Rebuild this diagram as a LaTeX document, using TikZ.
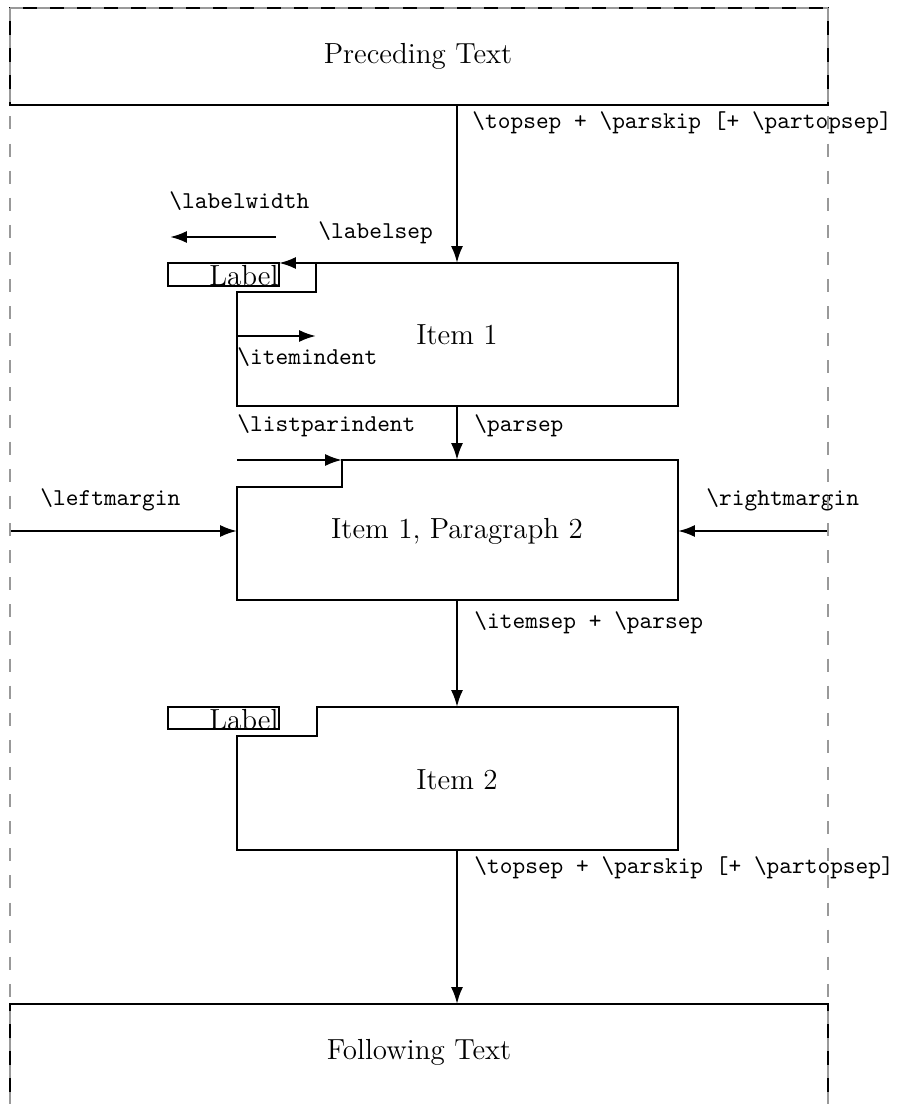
\documentclass[tikz,border=0pt]{standalone}
\usetikzlibrary{arrows.meta}
\begin{document}
\begin{tikzpicture}[x=0.4132pt,y=-0.4132pt,
  box/.style={draw=black,line width=0.95pt},
  conn/.style={draw=black,line width=0.95pt,-{Latex[length=7pt,width=5pt]}},
  margin/.style={draw=gray!80,line width=0.5pt,dash pattern=on 5.4pt off 5.8pt},
  tt/.style={font=\ttfamily,inner sep=0pt,anchor=west},
  big/.style={font=\large,inner sep=0pt}]
\useasboundingbox (0,0) rectangle (900,1104);
% coordinates
\coordinate (preB) at (457,105);
\coordinate (i1T) at (457,263);
\coordinate (i1B) at (457,406);
\coordinate (p2T) at (457,460);
\coordinate (p2B) at (457,600);
\coordinate (i2T) at (457,707);
\coordinate (i2B) at (457,850);
\coordinate (folT) at (457,1004);
\coordinate (lsA) at (316,263);
\coordinate (lsB) at (279,263);
\coordinate (lwA) at (276,237);
\coordinate (lwB) at (170,237);
\coordinate (iiA) at (237,336);
\coordinate (iiB) at (316,336);
\coordinate (lpA) at (237,460);
\coordinate (lpB) at (342,460);
\coordinate (lmA) at (10,531);
\coordinate (lmB) at (237,531);
\coordinate (rmA) at (828,531);
\coordinate (rmB) at (678,531);
% boxes
\draw[box] (10,8) rectangle (828,105);
\node[big] (pre) at (418,56) {Preceding Text};
\draw[box] (10,1104) -- (10,1004) -- (828,1004) -- (828,1104);
\node[big] (fol) at (419,1052) {Following Text};
% item 1
\draw[box] (316,263) -- (678,263) -- (678,406) -- (237,406) -- (237,292) -- (316,292) -- cycle;
\node[big] (item1) at (457,335) {Item 1};
\draw[line width=0.8pt] (168,263) rectangle (279,286);
\node[big,anchor=base east] (lab1) at (279,285) {Label};
% paragraph 2
\draw[box] (342,460) -- (678,460) -- (678,600) -- (237,600) -- (237,487) -- (342,487) -- cycle;
\node[big] (par2) at (457,531) {Item 1, Paragraph 2};
% item 2
\draw[box] (317,707) -- (678,707) -- (678,850) -- (237,850) -- (237,736) -- (317,736) -- cycle;
\node[big] (item2) at (457,780) {Item 2};
\draw[line width=0.8pt] (168,707) rectangle (279,729);
\node[big,anchor=base east] (lab2) at (279,729) {Label};
% connectors
\draw[conn] (preB) -- (i1T);
\draw[conn] (lsA) -- (lsB);
\draw[conn] (lwA) -- (lwB);
\draw[conn] (iiA) -- (iiB);
\draw[conn] (i1B) -- (p2T);
\draw[conn] (lpA) -- (lpB);
\draw[conn] (lmA) -- (lmB);
\draw[conn] (rmA) -- (rmB);
\draw[conn] (p2B) -- (i2T);
\draw[conn] (i2B) -- (folT);
% labels
\node[tt] (t1) at (472,123) {\textbackslash topsep + \textbackslash parskip [+ \textbackslash partopsep]};
\node[tt] (t2) at (169,201) {\textbackslash labelwidth};
\node[tt] (t3) at (318,233) {\textbackslash labelsep};
\node[tt] (t4) at (237,357) {\textbackslash itemindent};
\node[tt] (t5) at (237,426) {\textbackslash listparindent};
\node[tt] (t6) at (474,426) {\textbackslash parsep};
\node[tt] (t7) at (40,500) {\textbackslash leftmargin};
\node[tt] (t8) at (706,500) {\textbackslash rightmargin};
\node[tt] (t9) at (474,623) {\textbackslash itemsep + \textbackslash parsep};
\node[tt] (t10) at (474,868) {\textbackslash topsep + \textbackslash parskip [+ \textbackslash partopsep]};
% margins
\draw[margin] (10,8) -- (10,1110);
\draw[margin] (828,8) -- (828,1110);
\draw[margin] (10,8) -- (828,8);
\end{tikzpicture}
\end{document}
